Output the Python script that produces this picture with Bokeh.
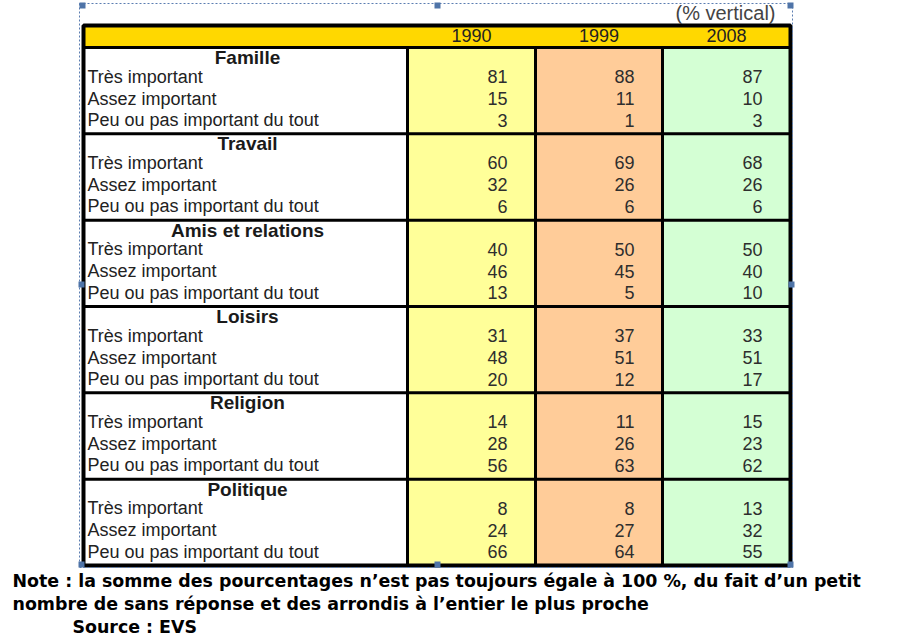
from bokeh.plotting import figure
from bokeh.models import Range1d, ColumnDataSource
from bokeh.core.properties import value
from bokeh.embed import file_html
from bokeh.resources import INLINE

# ---------------- data ----------------
groups = ["Famille", "Travail", "Amis et relations", "Loisirs", "Religion", "Politique"]
levels = ["Très important", "Assez important", "Peu ou pas important du tout"]
years = ["1990", "1999", "2008"]
v1990 = [81, 15, 3, 60, 32, 6, 40, 46, 13, 31, 48, 20, 14, 28, 56, 8, 24, 66]
v1999 = [88, 11, 1, 69, 26, 6, 50, 45, 5, 37, 51, 12, 11, 26, 63, 8, 27, 64]
v2008 = [87, 10, 3, 68, 26, 6, 50, 40, 10, 33, 51, 17, 15, 23, 62, 13, 32, 55]
unit_label = "(% vertical)"
note_lines = [
    "Note : la somme des pourcentages n\u2019est pas toujours égale à 100 %, du fait d\u2019un petit",
    "nombre de sans réponse et des arrondis à l\u2019entier le plus proche",
]
source_label = "Source : EVS"

# ---------------- layout ----------------
W, H = 915, 640
p = figure(width=W, height=H, output_backend="svg", toolbar_location=None,
           x_range=Range1d(0, W), y_range=Range1d(H, 0),
           min_border=0, background_fill_color="white", border_fill_color="white")
p.axis.visible = False
p.grid.visible = False
p.outline_line_color = None

LEFT, RIGHT = 83, 790
TOP, HEAD_B, BOTTOM = 25, 47, 565
col_edges = [407, 535, 662, 790]
col_fill = ["#FFFF99", "#FFCC99", "#D4FFD4"]
group_h = (BOTTOM - HEAD_B) / len(groups)
FONT = value("Liberation Sans")

# header band
p.quad(left=[LEFT], right=[RIGHT], top=[TOP], bottom=[HEAD_B], fill_color="#FFD800", line_color=None)
# label column + year columns
p.quad(left=[LEFT], right=[col_edges[0]], top=[HEAD_B], bottom=[BOTTOM], fill_color="white", line_color=None)
p.quad(left=col_edges[:-1], right=col_edges[1:], top=[HEAD_B] * 3, bottom=[BOTTOM] * 3,
       fill_color=col_fill, line_color=None)

# grid lines
gy = [HEAD_B + group_h * i for i in range(len(groups) + 1)]
p.segment(x0=[LEFT] * (len(gy) - 1), x1=[RIGHT] * (len(gy) - 1), y0=gy[:-1], y1=gy[:-1],
          line_color="black", line_width=3)
p.segment(x0=col_edges[:-1], x1=col_edges[:-1], y0=[HEAD_B] * 3, y1=[BOTTOM] * 3,
          line_color="black", line_width=3)
p.quad(left=[LEFT], right=[RIGHT], top=[TOP], bottom=[BOTTOM], fill_color=None,
       line_color="black", line_width=4)

# year headers
xc = [(col_edges[i] + col_edges[i + 1]) / 2 for i in range(3)]
p.text(x=xc, y=[35] * 3, text=years, text_font=FONT, text_font_size="18px",
       text_color="#222222", text_align="center", text_baseline="middle")
p.text(x=[775], y=[12], text=[unit_label], text_font=FONT, text_font_size="20px",
       text_color="#444444", text_align="right", text_baseline="middle")

# group titles and row labels
gtop = gy[:-1]
p.text(x=[(LEFT + col_edges[0]) / 2 + 2] * len(groups), y=[g + 10 for g in gtop], text=groups,
       text_font=FONT, text_font_size="19px", text_font_style="bold", text_color="#1a1a1a",
       text_align="center", text_baseline="middle")
row_off = [29, 51, 72.5]
lab_x, lab_y, lab_t = [], [], []
for g in gtop:
    for off, lv in zip(row_off, levels):
        lab_x.append(87)
        lab_y.append(g + off)
        lab_t.append(lv)
p.text(x=lab_x, y=lab_y, text=lab_t, text_font=FONT, text_font_size="18px",
       text_color="#222222", text_align="left", text_baseline="middle")

# numbers
for ci, vals in enumerate([v1990, v1999, v2008]):
    src = ColumnDataSource(dict(x=[col_edges[ci + 1] - 28] * len(vals), y=lab_y,
                                t=[str(v) for v in vals]))
    p.text(x="x", y="y", text="t", source=src, text_font=FONT, text_font_size="18px",
           text_color="#2e2e2e", text_align="right", text_baseline="middle")

# selection frame (dotted) and handles
p.quad(left=[79], right=[792], top=[3], bottom=[567], fill_color=None,
       line_color="#5B7DB1", line_width=1, line_dash="2 2")
hx = [82, 437, 790, 791, 790, 437, 81, 81]
hy = [5, 5, 5, 284, 564, 564, 564, 284]
p.rect(x=hx, y=hy, width=6, height=6, fill_color="#4F74A8", line_color=None)

# note
NFONT = value("DejaVu Sans")
p.text(x=[12, 12], y=[580, 603], text=note_lines, text_font=NFONT, text_font_size="17.4px",
       text_font_style="bold", text_color="black", text_align="left", text_baseline="middle")
p.text(x=[72], y=[626], text=[source_label], text_font=NFONT, text_font_size="17.4px",
       text_font_style="bold", text_color="black", text_align="left", text_baseline="middle")

open("out.html", "w").write(file_html(p, INLINE))
